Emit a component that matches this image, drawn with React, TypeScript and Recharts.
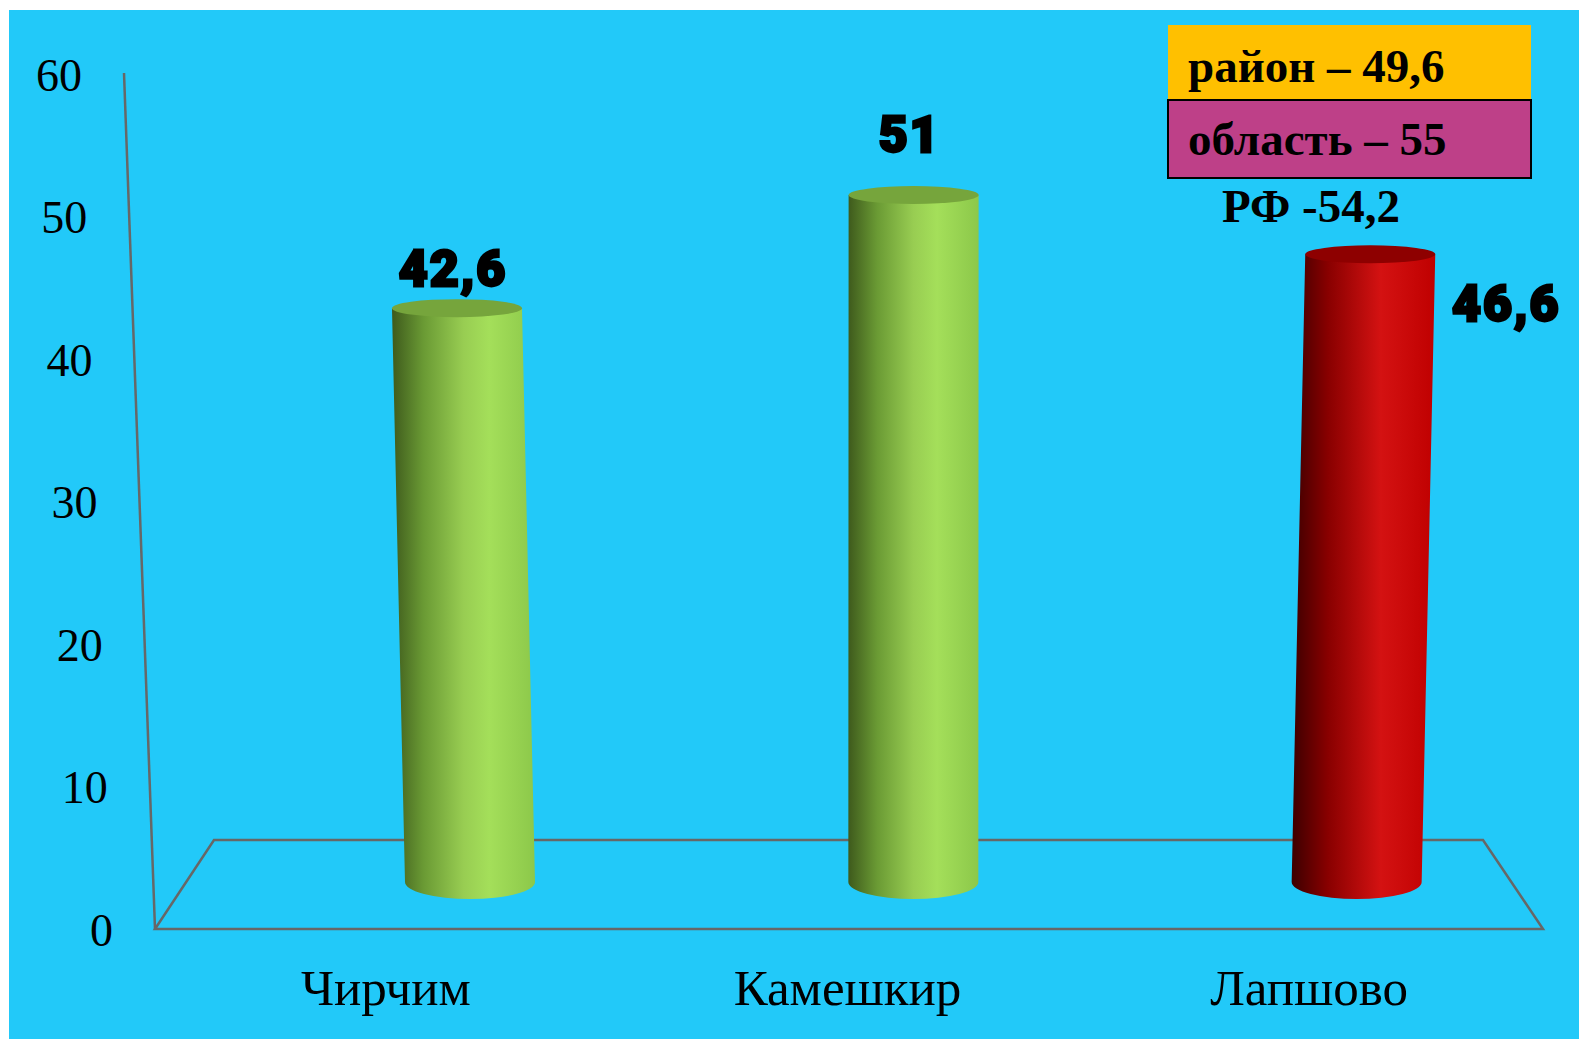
import React from 'react';
import { BarChart, Bar, Line, XAxis, YAxis, Cell, LabelList } from 'recharts';

// ---- data ----
const categories = ['Чирчим', 'Камешкир', 'Лапшово'];
const values = [42.6, 51, 46.6];
const yTicks = [0, 10, 20, 30, 40, 50, 60];
const notes = ['район – 49,6', 'область – 55', 'РФ -54,2'];

// ---- styles ----
const barGradients = ['gGreen', 'gGreen', 'gRed'];
const capColors = ['#76a53c', '#76a53c', '#8e0000'];
const labelOffsets = [
  { dx: -4, dy: -22 },
  { dx: -4, dy: -43 },
  { dx: 136, dy: 67 },
];

const W = 1570;
const H = 1029;
const BG = '#22C9F9';
const SERIF = '"Liberation Serif", "Times New Roman", serif';

const data = categories.map((name, i) => ({ name, value: values[i] }));

const fmt = (v: number) => String(v).replace('.', ',');

const CylinderShape = (props: any) => {
  const { x, y, width, height, index, fill } = props;
  const rx = width / 2;
  const ryTop = 9;
  const ryBot = 17;
  const cx = x + rx;
  const shift = (cx - 895) * 0.03;
  const bottom = y + height;
  const d = `M ${x + shift} ${y} L ${x} ${bottom} A ${rx} ${ryBot} 0 0 0 ${x + width} ${bottom} L ${x + width + shift} ${y} Z`;
  return (
    <g>
      <path d={d} fill={fill} />
      <ellipse cx={cx + shift} cy={y} rx={rx} ry={ryTop} fill={capColors[index]} />
    </g>
  );
};

const ValueLabel = (props: any) => {
  const { x, y, width, value, index } = props;
  const off = labelOffsets[index] || { dx: 0, dy: 0 };
  const cx = x + width / 2 + (x + width / 2 - 895) * 0.03;
  return (
    <text
      x={cx + off.dx}
      y={y + off.dy}
      textAnchor="middle"
      fontFamily='"Roboto", "Lato", "DejaVu Sans", sans-serif'
      fontWeight={900}
      fontSize={50}
      letterSpacing={2}
      fill="#000"
      stroke="#000"
      strokeWidth={2.8}
    >
      {fmt(value)}
    </text>
  );
};

const YTick = (props: any) => {
  const { y, payload } = props;
  const axisX = 115 + (y - 63) * 0.03621;
  return (
    <text
      x={axisX - 42}
      y={y}
      textAnchor="end"
      dominantBaseline="central"
      fontFamily={SERIF}
      fontSize={46}
      fill="#000"
    >
      {payload.value}
    </text>
  );
};

const XTick = (props: any) => {
  const { x, y, payload } = props;
  return (
    <text x={x} y={y + 37} textAnchor="middle" fontFamily={SERIF} fontSize={51} fill="#000">
      {payload.value}
    </text>
  );
};

const Backdrop = () => (
  <svg width={W} height={H} style={{ position: 'absolute', left: 0, top: 0 }}>
    <g fill="none" stroke="#676767" strokeWidth={2.5}>
      <line x1={115} y1={63} x2={146} y2={919} />
      <polygon points="146,919 205,830 1474,830 1534,919" />
    </g>
  </svg>
);

const Notes = () => (
  <svg width={W} height={H} style={{ position: 'absolute', left: 0, top: 0, pointerEvents: 'none' }}>
    <rect x={1159} y={15} width={363} height={75} fill="#FFC000" />
    <rect x={1159} y={90} width={363} height={78} fill="#BE4088" stroke="#000" strokeWidth={2} />
    <g fontFamily={SERIF} fontWeight="bold" fontSize={47} fill="#000">
      <text x={1179} y={72}>{notes[0]}</text>
      <text x={1179} y={145}>{notes[1]}</text>
      <text x={1213} y={212}>{notes[2]}</text>
    </g>
  </svg>
);

export default function App() {
  return (
    <div style={{ position: 'absolute', left: 9, top: 10, width: W, height: H, background: BG, overflow: 'hidden' }}>
      <Backdrop />
      <div style={{ position: 'absolute', left: 0, top: 0 }}>
        <BarChart width={W} height={H} data={data} margin={{ top: 65, right: 47, bottom: 0, left: 0 }}>
          <defs>
            <linearGradient id="gGreen" x1="0" y1="0" x2="1" y2="0">
              <stop offset="0%" stopColor="#3e5a1c" />
              <stop offset="22%" stopColor="#6a9a34" />
              <stop offset="50%" stopColor="#98cd52" />
              <stop offset="68%" stopColor="#a4df5a" />
              <stop offset="100%" stopColor="#8cc84a" />
            </linearGradient>
            <linearGradient id="gRed" x1="0" y1="0" x2="1" y2="0">
              <stop offset="0%" stopColor="#3c0000" />
              <stop offset="25%" stopColor="#880000" />
              <stop offset="62%" stopColor="#d41212" />
              <stop offset="100%" stopColor="#bf0000" />
            </linearGradient>
          </defs>
          <XAxis
            xAxisId="cat"
            dataKey="name"
            height={109}
            axisLine={false}
            tickLine={false}
            interval={0}
            padding={{ left: 0, right: -8 }}
            tick={<XTick />}
          />
          <XAxis xAxisId="b" dataKey="name" hide padding={{ left: 93, right: -46 }} />
          <YAxis
            yAxisId="t"
            width={146}
            domain={[0, 60]}
            ticks={yTicks}
            axisLine={false}
            tickLine={false}
            tick={<YTick />}
          />
          <YAxis yAxisId="b" hide domain={[-3.56, 59.91]} allowDataOverflow />
          <Line
            dataKey="value"
            xAxisId="cat"
            yAxisId="t"
            stroke="none"
            dot={false}
            activeDot={false}
            isAnimationActive={false}
          />
          <Bar
            dataKey="value"
            xAxisId="b"
            yAxisId="b"
            barSize={130}
            shape={<CylinderShape />}
            isAnimationActive={false}
          >
            {data.map((d, i) => (
              <Cell key={d.name} fill={`url(#${barGradients[i]})`} />
            ))}
            <LabelList dataKey="value" content={<ValueLabel />} />
          </Bar>
        </BarChart>
      </div>
      <Notes />
    </div>
  );
}
